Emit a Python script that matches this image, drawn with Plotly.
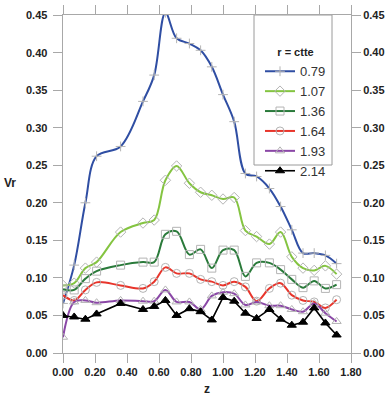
import plotly.graph_objects as go

z = [0.00, 0.07, 0.14, 0.21, 0.36, 0.50, 0.57, 0.64, 0.71, 0.79, 0.86, 0.93,
     1.00, 1.07, 1.14, 1.21, 1.29, 1.36, 1.43, 1.50, 1.57, 1.64, 1.71]

r079 = [0.066, 0.117, 0.200, 0.262, 0.275, 0.335, 0.370, 0.453, 0.419, 0.412, 0.403, 0.381,
        0.344, 0.308, 0.239, 0.235, 0.219, 0.195, 0.164, 0.133, 0.133, 0.130, 0.119]
r107 = [0.090, 0.093, 0.113, 0.121, 0.161, 0.173, 0.177, 0.230, 0.249, 0.226, 0.214, 0.210,
        0.205, 0.207, 0.163, 0.155, 0.145, 0.161, 0.128, 0.113, 0.110, 0.116, 0.105]
r136 = [0.085, 0.084, 0.099, 0.109, 0.117, 0.121, 0.121, 0.158, 0.162, 0.131, 0.138, 0.113,
        0.137, 0.137, 0.102, 0.120, 0.120, 0.111, 0.098, 0.087, 0.096, 0.086, 0.091]
r164 = [0.077, 0.070, 0.084, 0.094, 0.090, 0.086, 0.095, 0.114, 0.106, 0.106, 0.098, 0.095,
        0.090, 0.095, 0.088, 0.069, 0.086, 0.093, 0.077, 0.070, 0.068, 0.060, 0.071]
r193 = [0.021, 0.068, 0.070, 0.067, 0.070, 0.069, 0.069, 0.084, 0.068, 0.068, 0.058, 0.076,
        0.081, 0.079, 0.064, 0.068, 0.063, 0.063, 0.058, 0.055, 0.066, 0.053, 0.042]
r214 = [0.050, 0.048, 0.045, 0.052, 0.066, 0.058, 0.062, 0.070, 0.050, 0.059, 0.055, 0.044,
        0.074, 0.069, 0.053, 0.046, 0.058, 0.045, 0.037, 0.041, 0.060, 0.040, 0.024]

names = ["0.79", "1.07", "1.36", "1.64", "1.93", "2.14"]
y_ticks = [0.00, 0.05, 0.10, 0.15, 0.20, 0.25, 0.30, 0.35, 0.40, 0.45]

series = [r079, r107, r136, r164, r193, r214]
colors = ["#2f4ea3", "#84c441", "#2a7a3a", "#e8352b", "#8a47a6", "#000000"]
symbols = ["cross-thin-open", "diamond-open", "square-open", "circle-open",
           "triangle-up-open", "triangle-up"]
msizes = [7, 8, 8, 8, 8, 8]

fig = go.Figure()
for i, (nm, ys) in enumerate(zip(names, series)):
    smooth = i < 5
    fig.add_trace(go.Scatter(
        x=z, y=ys, name=nm, mode="lines+markers",
        line=dict(color=colors[i], width=2 if smooth else 1.6,
                  shape="spline" if smooth else "linear", smoothing=1.0),
        marker=dict(symbol=symbols[i], size=msizes[i],
                    color="#b4b4b4" if smooth else "#000000",
                    line=dict(color="#b4b4b4" if smooth else "#000000", width=1)),
    ))

# invisible trace to carry the right-hand axis
fig.add_trace(go.Scatter(x=z, y=r214, yaxis="y2", mode="lines", opacity=0,
                         showlegend=False, hoverinfo="skip"))

FAM = "Liberation Sans, Arial, sans-serif"
NARROW = "Liberation Sans Narrow, Arial Narrow, Liberation Sans, sans-serif"
tickfont = dict(family=FAM, size=11, color="#222222", weight="bold")
axcol = "#a8a8a8"

L, R, T, B = 63, 40, 15, 48
plot_w = 391 - L - R
plot_h = 401 - T - B

def px_x(px):
    return (px - L) / plot_w

def px_y(py):
    return (401 - B - py) / plot_h

# left-hand tick labels placed on the y scale
left_labels = [dict(text=f"{v:.2f}", x=px_x(49), y=v, xref="paper", yref="y",
                    xanchor="right", yanchor="middle", showarrow=False,
                    font=tickfont) for v in y_ticks]

fig.update_layout(
    width=391, height=401,
    margin=dict(l=L, r=R, t=T, b=B, autoexpand=False),
    paper_bgcolor="white", plot_bgcolor="white",
    showlegend=True,
    xaxis=dict(range=[0, 1.8], dtick=0.2, tick0=0, tickformat=".2f",
               showgrid=False, zeroline=False, showline=True, linecolor=axcol, linewidth=1,
               mirror="ticks", ticks="outside", ticklen=9, tickcolor=axcol,
               tickfont=tickfont, automargin=False,
               title=dict(text="z", font=dict(family=FAM, size=12, color="#222222", weight="bold"),
                          standoff=7)),
    yaxis=dict(range=[0, 0.45], tickvals=y_ticks, automargin=False, showticklabels=False,
               showgrid=False, zeroline=False, showline=True, linecolor=axcol, linewidth=1,
               ticks="outside", ticklen=9, tickcolor=axcol),
    yaxis2=dict(range=[0, 0.45], tickvals=y_ticks, tickformat=".2f", overlaying="y", side="right",
                showgrid=False, zeroline=False, showline=True, linecolor=axcol, linewidth=1,
                ticks="outside", ticklen=9, tickcolor=axcol, tickfont=tickfont, automargin=False),
    legend=dict(x=px_x(260), y=px_y(42), xanchor="left", yanchor="top",
                bgcolor="rgba(0,0,0,0)", borderwidth=0,
                font=dict(family=NARROW, size=13, color="#333333"),
                title=dict(text="r = ctte", side="top center",
                           font=dict(family=FAM, size=11, color="#222222", weight="bold"))),
    shapes=[dict(type="rect", xref="paper", yref="paper",
                 x0=px_x(254), x1=px_x(332), y0=px_y(165), y1=px_y(15),
                 line=dict(color="#9a9a9a", width=1), fillcolor="white", layer="below")],
    annotations=left_labels + [
        dict(text="Vr", x=px_x(10), y=px_y(183),
             xref="paper", yref="paper", showarrow=False,
             xanchor="center", yanchor="middle",
             font=dict(family=FAM, size=12, color="#222222", weight="bold"))],
)

fig.write_html("out.html", config={"displayModeBar": False},
               post_script="document.body.style.margin='0';")
